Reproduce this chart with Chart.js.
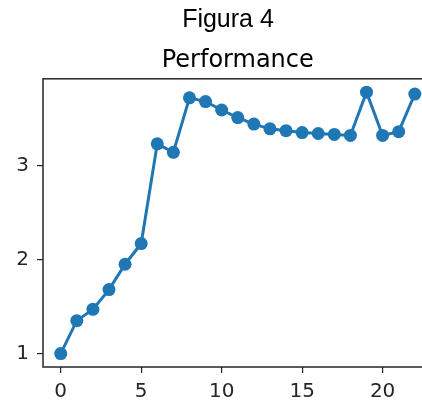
<!DOCTYPE html>
<html>
<head>
<meta charset="utf-8">
<script src="https://cdn.jsdelivr.net/npm/chart.js@4/dist/chart.umd.min.js"></script>
<style>
  html,body{margin:0;padding:0;background:#fff}
  #frame{position:relative;width:422px;height:403px;overflow:hidden}
  #suptitle{position:absolute;left:17px;top:6px;width:422px;text-align:center;font:25px/1 "Liberation Sans",Arial,sans-serif;color:#000;z-index:2}
  #box{position:absolute;left:0;top:0;width:439px;height:403px}
</style>
</head>
<body>
<div id="frame">
  <div id="suptitle">Figura 4</div>
  <div id="box"><canvas id="chart"></canvas></div>
</div>
<script>
const epochs = [0,1,2,3,4,5,6,7,8,9,10,11,12,13,14,15,16,17,18,19,20,21,22];
const performance = [1.00,1.35,1.47,1.68,1.95,2.17,3.23,3.14,3.72,3.68,3.59,3.51,3.44,3.39,3.37,3.35,3.34,3.33,3.32,3.78,3.32,3.36,3.76];
const xTicks = [0,5,10,15,20];
const yTicks = [1,2,3];

const ink = '#262626';
const blue = '#1f77b4';

// axes frame like matplotlib spines
const spines = {
  id:'spines',
  afterDatasetsDraw(chart){
    const {ctx,chartArea:a} = chart;
    ctx.save();
    ctx.strokeStyle = ink; ctx.lineWidth = 1.5;
    ctx.strokeRect(a.left, a.top, a.right - a.left, a.bottom - a.top);
    ctx.restore();
  }
};

const tickFont = {family:'"DejaVu Sans"', size:20};

new Chart(document.getElementById('chart'), {
  type:'line',
  data:{datasets:[{
    data: epochs.map((x,i)=>({x, y:performance[i]})),
    borderColor: blue, backgroundColor: blue,
    borderWidth: 3, pointRadius: 6.5, pointHoverRadius: 6.5,
    pointBorderWidth: 0, tension: 0
  }]},
  options:{
    responsive:true, maintainAspectRatio:false, animation:false,
    layout:{padding:0},
    plugins:{
      legend:{display:false}, tooltip:{enabled:false},
      title:{display:true, text:'Performance', fullSize:false, color:'#000',
        font:{family:'"DejaVu Sans"', size:24, weight:'normal', lineHeight:1.2},
        padding:{top:46, bottom:4}}
    },
    scales:{
      x:{type:'linear', min:-1.1, max:23.1,
        afterBuildTicks:s=>{s.ticks = xTicks.map(v=>({value:v}));},
        afterFit:s=>{s.height = 36;},
        grid:{drawOnChartArea:false, drawTicks:true, tickLength:6, color:ink, lineWidth:1.2},
        border:{display:false},
        ticks:{color:ink, font:tickFont, padding:7, maxRotation:0}},
      y:{type:'linear', min:0.857, max:3.922,
        afterBuildTicks:s=>{s.ticks = yTicks.map(v=>({value:v}));},
        afterFit:s=>{s.width = 43;},
        grid:{drawOnChartArea:false, drawTicks:true, tickLength:6, color:ink, lineWidth:1.2},
        border:{display:false},
        ticks:{color:ink, font:tickFont, padding:8}}
    }
  },
  plugins:[spines]
});
</script>
</body>
</html>
